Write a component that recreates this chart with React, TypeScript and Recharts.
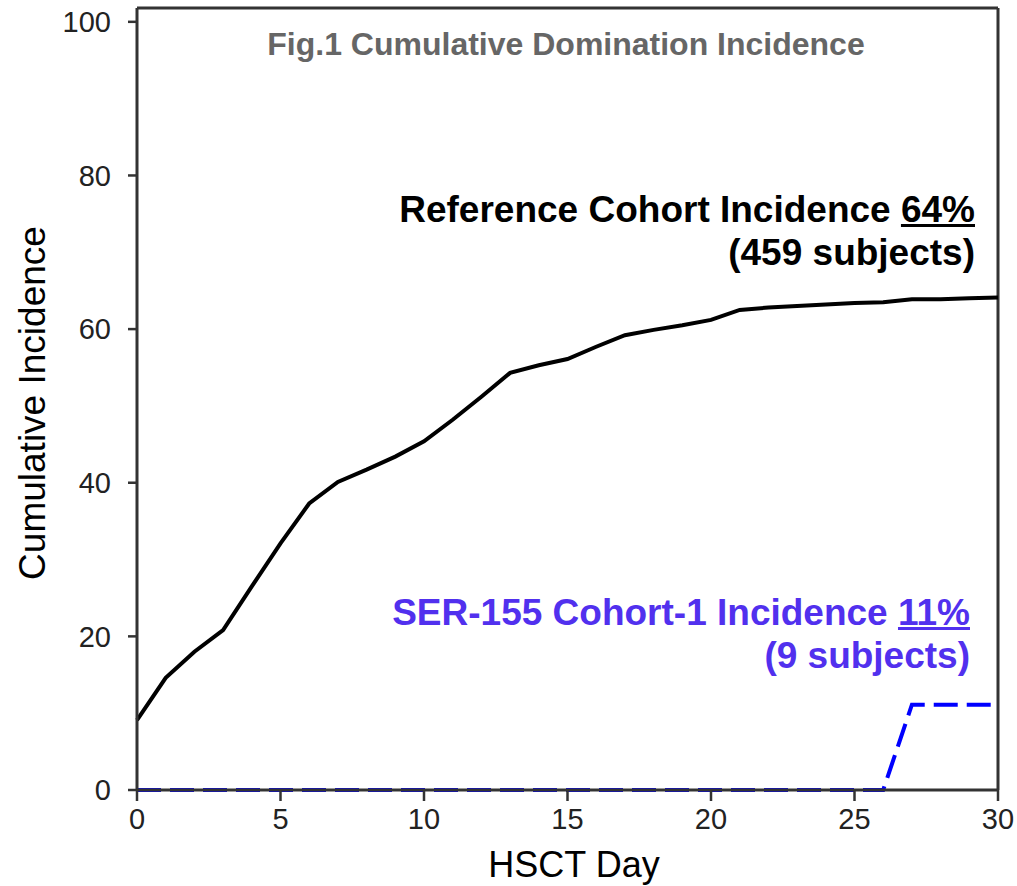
import { LineChart, Line, XAxis, YAxis, ReferenceLine } from 'recharts';

const days = [0, 1, 2, 3, 4, 5, 6, 7, 8, 9, 10, 11, 12, 13, 14, 15, 16, 17, 18, 19, 20, 21, 22, 23, 24, 25, 26, 27, 28, 29, 30];
const referenceCohort = [9.1, 14.6, 18.0, 20.8, 26.5, 32.1, 37.3, 40.1, 41.7, 43.4, 45.4, 48.2, 51.2, 54.3, 55.3, 56.1, 57.7, 59.2, 59.9, 60.5, 61.2, 62.5, 62.8, 63.0, 63.2, 63.4, 63.5, 63.9, 63.9, 64.0, 64.1];
const ser155Cohort = [0, 0, 0, 0, 0, 0, 0, 0, 0, 0, 0, 0, 0, 0, 0, 0, 0, 0, 0, 0, 0, 0, 0, 0, 0, 0, 0, 11.1, 11.1, 11.1, 11.1];
const xTicks = [0, 5, 10, 15, 20, 25, 30];
const yTicks = [0, 20, 40, 60, 80, 100];

const data = days.map((d, i) => ({ day: d, reference: referenceCohort[i], ser155: ser155Cohort[i] }));

const sans = '"Liberation Sans", Arial, sans-serif';
const axisColor = '#333';
const blueText = '#5130ee';

export default function App() {
    const tickStyle = { fill: '#222', fontSize: 29, fontFamily: sans };
    return (
        <div style={{ position: 'absolute', left: 0, top: 0, width: 1017, height: 886, background: '#fff', fontFamily: sans }}>
            <LineChart width={1017} height={886} data={data} margin={{ top: 8, right: 19, left: 0, bottom: 0 }}>
                <XAxis
                    dataKey="day"
                    type="number"
                    domain={[0, 30]}
                    ticks={xTicks}
                    height={96}
                    tick={tickStyle}
                    tickSize={11}
                    tickMargin={7}
                    axisLine={{ stroke: axisColor, strokeWidth: 3 }}
                    tickLine={{ stroke: axisColor, strokeWidth: 2.5 }}
                />
                <YAxis
                    type="number"
                    domain={[0, 101.8]}
                    ticks={yTicks}
                    width={137}
                    tick={tickStyle}
                    tickSize={9}
                    tickMargin={17}
                    axisLine={{ stroke: axisColor, strokeWidth: 3 }}
                    tickLine={{ stroke: axisColor, strokeWidth: 2.5 }}
                />
                <ReferenceLine y={101.8} stroke={axisColor} strokeWidth={3} />
                <ReferenceLine x={30} stroke={axisColor} strokeWidth={3} />
                <Line
                    dataKey="reference"
                    type="linear"
                    stroke="#000"
                    strokeWidth={4}
                    dot={false}
                    isAnimationActive={false}
                />
                <Line
                    dataKey="ser155"
                    type="linear"
                    stroke="#0000ff"
                    strokeWidth={4}
                    strokeDasharray="24 9"
                    dot={false}
                    isAnimationActive={false}
                />
            </LineChart>

            {/* title + annotations */}
            <div style={{ position: 'absolute', left: 0, width: 1132, top: 25, textAlign: 'center', fontSize: 32, fontWeight: 700, color: '#666', lineHeight: '38px' }}>
                Fig.1 Cumulative Domination Incidence
            </div>
            <div style={{ position: 'absolute', right: 42, top: 188, textAlign: 'right', fontSize: 37, fontWeight: 700, color: '#000', lineHeight: '43px' }}>
                Reference Cohort Incidence <span style={{ textDecoration: 'underline' }}>64%</span>
                <br />
                (459 subjects)
            </div>
            <div style={{ position: 'absolute', right: 47, top: 591, textAlign: 'right', fontSize: 37, fontWeight: 700, color: blueText, lineHeight: '43px' }}>
                SER-155 Cohort-1 Incidence <span style={{ textDecoration: 'underline' }}>11%</span>
                <br />
                (9 subjects)
            </div>

            {/* axis titles */}
            <div style={{ position: 'absolute', left: 574, top: 844, transform: 'translateX(-50%)', fontSize: 36, color: '#000', whiteSpace: 'nowrap', lineHeight: '42px' }}>
                HSCT Day
            </div>
            <div style={{ position: 'absolute', left: 33, top: 403, transform: 'translate(-50%, -50%) rotate(-90deg)', fontSize: 37, color: '#000', whiteSpace: 'nowrap', lineHeight: '42px' }}>
                Cumulative Incidence
            </div>
        </div>
    );
}
